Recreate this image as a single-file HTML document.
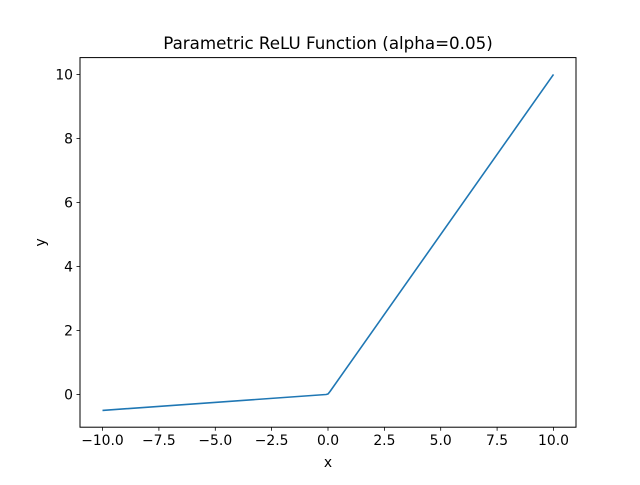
<!DOCTYPE html>
<html><head><style>body{margin:0;background:#fff}</style></head><body>
<svg width="640" height="480" xmlns="http://www.w3.org/2000/svg" font-family="DejaVu Sans, Liberation Sans, sans-serif">
<rect width="640" height="480" fill="#fff"/>
<polyline points="102.5,410.4 326,394.5 328,394 330,391.5 553.5,74.4" fill="none" stroke="#1f77b4" stroke-width="1.6" stroke-linejoin="round"/>
<rect x="80" y="57.6" width="496" height="369.6" fill="none" stroke="#000" stroke-width="1"/>
<g stroke="#000" stroke-width="0.8">
<line x1="102.5" y1="427.2" x2="102.5" y2="430.7"/>
<line x1="158.9" y1="427.2" x2="158.9" y2="430.7"/>
<line x1="215.3" y1="427.2" x2="215.3" y2="430.7"/>
<line x1="271.6" y1="427.2" x2="271.6" y2="430.7"/>
<line x1="328" y1="427.2" x2="328" y2="430.7"/>
<line x1="384.4" y1="427.2" x2="384.4" y2="430.7"/>
<line x1="440.7" y1="427.2" x2="440.7" y2="430.7"/>
<line x1="497.1" y1="427.2" x2="497.1" y2="430.7"/>
<line x1="553.5" y1="427.2" x2="553.5" y2="430.7"/>
<line x1="76.5" y1="394.4" x2="80" y2="394.4"/>
<line x1="76.5" y1="330.4" x2="80" y2="330.4"/>
<line x1="76.5" y1="266.4" x2="80" y2="266.4"/>
<line x1="76.5" y1="202.4" x2="80" y2="202.4"/>
<line x1="76.5" y1="138.4" x2="80" y2="138.4"/>
<line x1="76.5" y1="74.4" x2="80" y2="74.4"/>
</g>
<g font-size="13.9" text-anchor="middle">
<text x="102.5" y="445">−10.0</text>
<text x="158.9" y="445">−7.5</text>
<text x="215.3" y="445">−5.0</text>
<text x="271.6" y="445">−2.5</text>
<text x="328" y="445">0.0</text>
<text x="384.4" y="445">2.5</text>
<text x="440.7" y="445">5.0</text>
<text x="497.1" y="445">7.5</text>
<text x="553.5" y="445">10.0</text>
<text x="328" y="467">x</text>
</g>
<g font-size="13.9" text-anchor="end">
<text x="73" y="399.4">0</text>
<text x="73" y="335.4">2</text>
<text x="73" y="271.4">4</text>
<text x="73" y="207.4">6</text>
<text x="73" y="143.4">8</text>
<text x="73" y="79.4">10</text>
</g>
<text font-size="13.9" text-anchor="middle" transform="translate(45,242.4) rotate(-90)">y</text>
<text font-size="16.7" text-anchor="middle" x="328" y="49">Parametric ReLU Function (alpha=0.05)</text>
</svg>
</body></html>
